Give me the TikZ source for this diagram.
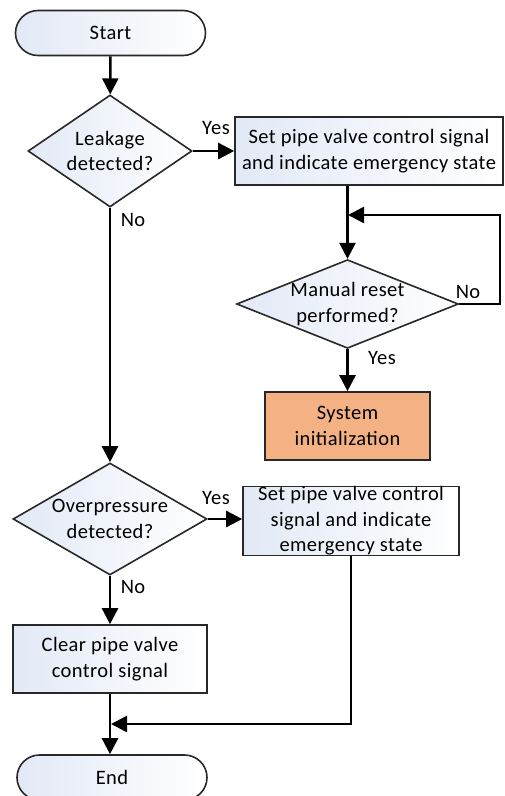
\documentclass[tikz,border=0pt]{standalone}
\usepackage{fontspec}
\setmainfont{Carlito}[LetterSpace=2]
\usetikzlibrary{shapes.geometric,arrows.meta}
\definecolor{edgegray}{RGB}{40,40,40}
\definecolor{paleblue}{RGB}{226,233,246}
\definecolor{initorange}{RGB}{244,177,131}

\begin{document}
\begin{tikzpicture}[x=1pt,y=-1pt,
	font=\fontsize{20.5}{25.5}\selectfont,
	line width=2.5pt,
	>={Triangle[length=16pt,width=16pt]},
	term/.style={draw=edgegray,line width=1.6pt,rectangle,rounded corners=22.5pt,minimum width=190pt,minimum height=45pt,inner sep=0,left color=paleblue,right color=white},
	proc/.style={draw=edgegray,line width=1.6pt,rectangle,minimum height=68pt,inner sep=0,align=center,left color=paleblue,right color=white},
	decide/.style={draw=edgegray,line width=1.6pt,diamond,inner sep=0,align=center,left color=paleblue,right color=white},
	lbl/.style={inner sep=0}
]
	\useasboundingbox (0,0) rectangle (504,796);
	\node[term] (start) at (110.5,33) {Start};
	\node[decide,aspect=1.46,minimum width=164pt,minimum height=112pt] (leak) at (110,151) {Leakage\\detected?};
	\node[proc,minimum width=268pt] (set1) at (369,151) {Set pipe valve control signal\\and indicate emergency state};
	\node[decide,aspect=2.5,minimum width=221pt,minimum height=88pt] (reset) at (347.5,304) {Manual reset\\performed?};
	\node[proc,minimum width=165pt,fill=initorange,left color=initorange,right color=initorange] (init) at (347.5,426) {System\\initialization};
	\node[decide,aspect=1.73,minimum width=194pt,minimum height=112pt] (over) at (110,519) {Overpressure\\detected?};
	\node[proc,minimum width=216pt] (set2) at (351,521) {Set pipe valve control\\signal and indicate\\emergency state};
	\node[proc,minimum width=194pt] (clear) at (110,659) {Clear pipe valve\\control signal};
	\node[term] (end) at (112,777.5) {End};
	\coordinate (loop) at (500,215);
	\coordinate (join1) at (348,215);
	\coordinate (join2) at (111,724);
	\node[lbl] (yes1) at (216,128) {Yes};
	\node[lbl] (no1) at (133,220) {No};
	\node[lbl] (no2) at (468,292) {No};
	\node[lbl] (yes2) at (382,358) {Yes};
	\node[lbl] (yes3) at (216,498) {Yes};
	\node[lbl] (no3) at (133,587) {No};
	\draw[->] (start) -- (leak);
	\draw[->] (leak.east) -- (set1.west);
	\draw[->] (leak.south) -- (over.north);
	\draw[->] (reset.north |- set1.south) -- (reset.north);
	\draw[->] (reset.east) -| (loop) -- (join1);
	\draw[->] (reset.south) -- (init.north);
	\draw[->] (over.east) -- (set2.west |- over.east);
	\draw[->] (over.south) -- (clear.north);
	\draw[->] (clear.south) -- (end.north -| clear.south);
	\draw[->] (set2.south) |- (join2);
\end{tikzpicture}
\end{document}
